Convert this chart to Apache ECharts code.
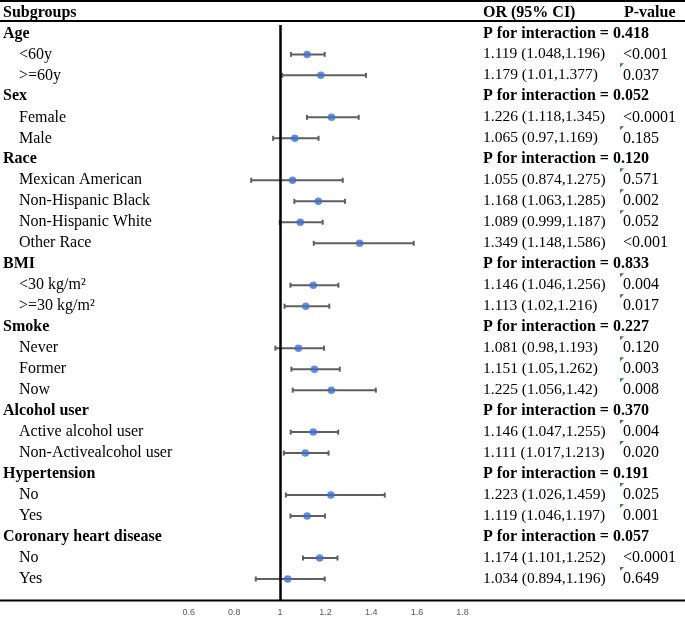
<!DOCTYPE html>
<html>
 <head>
  <meta charset="utf-8">
  <title>Forest plot by subgroup</title>
  <script src="https://cdn.jsdelivr.net/npm/echarts@6/dist/echarts.min.js"></script>
  <style>
    html, body, #container {
    width: 100%;
    height: 100%;
    margin: 0;
    padding: 0;
    background: #fff;
    }
  </style>
 </head>

<body>
  <div id="container"></div>
  <script>

    // one entry per table row, top to bottom ('h' = group header, 's' = subgroup)
    var rowType = ['h','s','s','h','s','s','h','s','s','s','s','h','s','s','h','s','s','s','h','s','s','h','s','s','h','s','s'];
    var subgroups = ['Age', '<60y', '>=60y', 'Sex', 'Female', 'Male', 'Race', 'Mexican American',
      'Non-Hispanic Black', 'Non-Hispanic White', 'Other Race', 'BMI', '<30 kg/m²', '>=30 kg/m²',
      'Smoke', 'Never', 'Former', 'Now', 'Alcohol user', 'Active alcohol user', 'Non-Activealcohol user',
      'Hypertension', 'No', 'Yes', 'Coronary heart disease', 'No', 'Yes'];
    var orValue = [null, 1.119, 1.179, null, 1.226, 1.065, null, 1.055, 1.168, 1.089, 1.349, null, 1.146, 1.113,
      null, 1.081, 1.151, 1.225, null, 1.146, 1.111, null, 1.223, 1.119, null, 1.174, 1.034];
    var ciLower = [null, 1.048, 1.01, null, 1.118, 0.97, null, 0.874, 1.063, 0.999, 1.148, null, 1.046, 1.02,
      null, 0.98, 1.05, 1.056, null, 1.047, 1.017, null, 1.026, 1.046, null, 1.101, 0.894];
    var ciUpper = [null, 1.196, 1.377, null, 1.345, 1.169, null, 1.275, 1.285, 1.187, 1.586, null, 1.256, 1.216,
      null, 1.193, 1.262, 1.42, null, 1.255, 1.213, null, 1.459, 1.197, null, 1.252, 1.196];
    var pValues = [null, '<0.001', '0.037', null, '<0.0001', '0.185', null, '0.571', '0.002', '0.052', '<0.001',
      null, '0.004', '0.017', null, '0.120', '0.003', '0.008', null, '0.004', '0.020', null, '0.025', '0.001',
      null, '<0.0001', '0.649'];
    var pInteraction = ['0.418', null, null, '0.052', null, null, '0.120', null, null, null, null, '0.833', null, null,
      '0.227', null, null, null, '0.370', null, null, '0.191', null, null, '0.057', null, null];
    var headers = ['Subgroups', 'OR (95% CI)', 'P-value'];

    var serif = '"Liberation Serif", "Times New Roman", serif';
    var fontN = '16px ' + serif;
    var fontB = 'bold 16px ' + serif;

    var pointData = [];
    var ciData = [];
    var textData = [[1, -1]];
    for (var i = 0; i < subgroups.length; i++) {
      textData.push([1, i]);
      if (orValue[i] !== null) {
        pointData.push([orValue[i], i]);
        ciData.push([ciLower[i], ciUpper[i], i]);
      }
    }

    var chartDom = document.getElementById('container');
    var myChart = echarts.init(chartDom);

    function txt(s, x, y, font) {
      return { type: 'text', style: { text: s, x: x, y: y, font: font, fill: '#000', verticalAlign: 'middle', align: 'left' } };
    }

    var options = {
      animation: false,
      grid: { left: 143, top: 25, width: 331, height: 575, outerBoundsMode: 'none', containLabel: false },
      xAxis: {
        type: 'value',
        min: 0.4,
        max: 1.85,
        interval: 0.2,
        splitLine: { show: false },
        axisLine: { show: false },
        axisTick: { show: false },
        axisLabel: {
          margin: 8,
          color: '#595959',
          fontSize: 9,
          fontFamily: '"Liberation Sans", Arial, sans-serif',
          formatter: function (v) { return v < 0.5 ? '' : String(+v.toFixed(1)); }
        }
      },
      yAxis: {
        type: 'value',
        inverse: true,
        min: -0.4,
        max: 27,
        show: false
      },
      graphic: [
        { type: 'line', shape: { x1: 0, y1: 1, x2: 685, y2: 1 }, style: { stroke: '#000', lineWidth: 2 } },
        { type: 'line', shape: { x1: 0, y1: 21, x2: 685, y2: 21 }, style: { stroke: '#000', lineWidth: 2 } },
        { type: 'line', shape: { x1: 0, y1: 600.5, x2: 685, y2: 600.5 }, style: { stroke: '#000', lineWidth: 2 } }
      ],
      series: [
        {
          type: 'custom',
          name: 'table',
          data: textData,
          encode: { x: 0, y: 1 },
          renderItem: function (params, api) {
            var row = api.value(1);
            var y = api.coord([1, row])[1];
            if (row < 0) {
              return { type: 'group', children: [
                txt(headers[0], 3, y, fontB), txt(headers[1], 483, y, fontB), txt(headers[2], 624, y, fontB)
              ] };
            }
            if (rowType[row] === 'h') {
              return { type: 'group', children: [
                txt(subgroups[row], 3, y, fontB),
                txt('P for interaction = ' + pInteraction[row], 483, y, fontB)
              ] };
            }
            var kids = [
              txt(subgroups[row], 19, y, fontN),
              txt(orValue[row] + ' (' + ciLower[row] + ',' + ciUpper[row] + ')', 483, y, '15.5px ' + serif),
              txt(pValues[row], 623, y, fontN)
            ];
            if (pValues[row].charAt(0) !== '<') {
              kids.push({ type: 'polygon', shape: { points: [[620, y - 12], [624, y - 12], [620, y - 8]] },
                style: { fill: '#2b8a2b' } });
            }
            return { type: 'group', children: kids };
          }
        },
        {
          type: 'custom',
          name: 'CI',
          data: ciData,
          encode: { x: [0, 1], y: 2 },
          z: 2,
          renderItem: function (params, api) {
            var a = api.coord([api.value(0), api.value(2)]);
            var b = api.coord([api.value(1), api.value(2)]);
            var st = { stroke: '#5f5f5f', lineWidth: 2 };
            return { type: 'group', children: [
              { type: 'line', shape: { x1: a[0], y1: a[1], x2: b[0], y2: b[1] }, style: st },
              { type: 'line', shape: { x1: a[0], y1: a[1] - 2.5, x2: a[0], y2: a[1] + 2.5 }, style: st },
              { type: 'line', shape: { x1: b[0], y1: b[1] - 2.5, x2: b[0], y2: b[1] + 2.5 }, style: st }
            ] };
          }
        },
        {
          type: 'scatter',
          name: 'OR',
          data: pointData,
          symbol: 'circle',
          symbolSize: 7.5,
          z: 3,
          itemStyle: { color: '#3b6fd6' },
          markLine: {
            silent: true,
            symbol: 'none',
            label: { show: false },
            lineStyle: { color: '#000', width: 2.5, type: 'solid' },
            data: [{ xAxis: 1 }]
          }
        }
      ]
    };

    myChart.setOption(options);
  </script>
</body>
</html>
